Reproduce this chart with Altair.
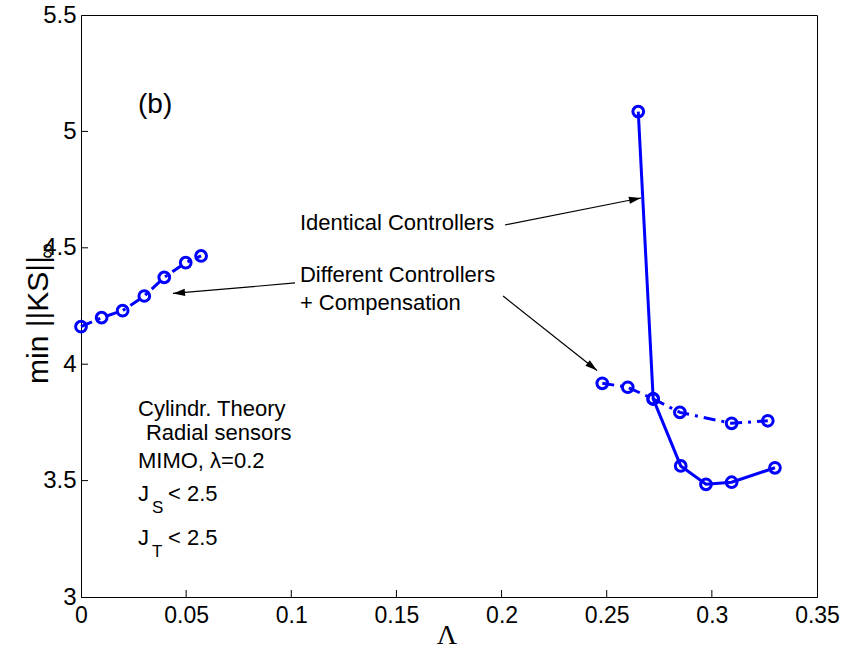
import math
import altair as alt
import pandas as pd

# ---------------- data ----------------
lam_diff_low = [0.0, 0.0098, 0.0198, 0.0301, 0.0396, 0.0498, 0.0571]
ks_diff_low = [4.161, 4.200, 4.230, 4.293, 4.373, 4.436, 4.465]

lam_diff_high = [0.2479, 0.2600, 0.2721, 0.2848, 0.3094, 0.3266]
ks_diff_high = [3.918, 3.901, 3.851, 3.793, 3.746, 3.757]

lam_ident = [0.2650, 0.2721, 0.2852, 0.2972, 0.3094, 0.3300]
ks_ident = [5.085, 3.851, 3.563, 3.484, 3.493, 3.555]

x_ticks = [0, 0.05, 0.1, 0.15, 0.2, 0.25, 0.3, 0.35]
y_ticks = [3, 3.5, 4, 4.5, 5, 5.5]

# annotation arrows: start (x, y) -> tip (x, y), in data units
arrow_x0 = [0.2016, 0.1018, 0.2007]
arrow_y0 = [4.598, 4.349, 4.293]
arrow_x1 = [0.2663, 0.04375, 0.2454]
arrow_y1 = [4.714, 4.304, 3.973]

# ---------------- layout ----------------
W, H = 736, 582
XMIN, XMAX, YMIN, YMAX = 0, 0.35, 3, 5.5
SX = W / (XMAX - XMIN)
SY = H / (YMAX - YMIN)
BLUE = "#0000FF"
FONT = "Liberation Sans"

xs = alt.Scale(domain=[XMIN, XMAX], nice=False, zero=False)
ys = alt.Scale(domain=[YMIN, YMAX], nice=False, zero=False)

diff = pd.DataFrame({
    "lam": lam_diff_low + lam_diff_high,
    "ks": ks_diff_low + ks_diff_high,
    "seg": ["low"] * len(lam_diff_low) + ["high"] * len(lam_diff_high),
})
ident = pd.DataFrame({"lam": lam_ident, "ks": ks_ident})
allpts = pd.concat([diff[["lam", "ks"]], ident], ignore_index=True)

X = alt.X("lam:Q", scale=xs,
          axis=alt.Axis(values=x_ticks, format="~g", title=None, ticks=False,
                        grid=False, labelFontSize=23, labelFont=FONT,
                        labelColor="black", domainColor="black",
                        labelPadding=7, labelFlush=False))
Y = alt.Y("ks:Q", scale=ys,
          axis=alt.Axis(values=y_ticks, format="~g", title=None, ticks=False,
                        grid=False, labelFontSize=24, labelFont=FONT,
                        labelColor="black", domainColor="black",
                        labelPadding=5, labelFlush=False))

dashed = alt.Chart(diff).mark_line(color=BLUE, strokeWidth=3,
                                   strokeDash=[12, 6, 3, 6]).encode(
    x=X, y=Y, detail="seg:N", order="lam:Q")
solid = alt.Chart(ident).mark_line(color=BLUE, strokeWidth=3).encode(
    x=alt.X("lam:Q", scale=xs), y=alt.Y("ks:Q", scale=ys), order="lam:Q")
points = alt.Chart(allpts).mark_point(shape="circle", filled=False, size=115,
                                      strokeWidth=3, color=BLUE, opacity=1).encode(
    x=alt.X("lam:Q", scale=xs), y=alt.Y("ks:Q", scale=ys))

# inward ticks
xt = pd.DataFrame({"v": x_ticks[1:-1]})
yt = pd.DataFrame({"v": y_ticks[1:-1]})
xtick_rules = alt.Chart(xt).mark_rule(color="black", strokeWidth=1).encode(
    x=alt.X("v:Q", scale=xs), y=alt.value(H), y2=alt.value(H - 7))
ytick_rules = alt.Chart(yt).mark_rule(color="black", strokeWidth=1).encode(
    y=alt.Y("v:Q", scale=ys), x=alt.value(0), x2=alt.value(7))

# arrows
arr = pd.DataFrame({"x0": arrow_x0, "y0": arrow_y0, "x1": arrow_x1, "y1": arrow_y1})
arr["angle"] = [
    math.degrees(math.atan2((b - a) * SX, (d - c) * SY)) % 360
    for a, b, c, d in zip(arr.x0, arr.x1, arr.y0, arr.y1)
]
arrow_lines = alt.Chart(arr).mark_rule(color="black", strokeWidth=1.2).encode(
    x=alt.X("x0:Q", scale=xs), y=alt.Y("y0:Q", scale=ys),
    x2="x1:Q", y2="y1:Q")
arrow_heads = alt.Chart(arr).mark_point(
    shape="M0,0L-0.6,2L0.6,2Z", filled=True, color="black", size=144,
    opacity=1, strokeWidth=0).encode(
    x=alt.X("x1:Q", scale=xs), y=alt.Y("y1:Q", scale=ys),
    angle=alt.Angle("angle:Q", scale=None))

# text annotations
def txt(df, size=22, align="left", baseline="alphabetic", **kw):
    return alt.Chart(df).mark_text(font=FONT, fontSize=size, align=align,
                                   baseline=baseline, color="black", **kw).encode(
        x=alt.X("x:Q", scale=xs), y=alt.Y("y:Q", scale=ys), text="t:N")

main_txt = pd.DataFrame({
    "x": [0.1041, 0.1041, 0.1041, 0.0271, 0.0309, 0.0271, 0.0271, 0.0414, 0.0271, 0.0414],
    "y": [4.576, 4.353, 4.233, 3.777, 3.674, 3.554, 3.412, 3.412, 3.223, 3.223],
    "t": ["Identical Controllers", "Different Controllers", "+ Compensation",
          "Cylindr. Theory", "Radial sensors", "MIMO, λ=0.2", "J", "< 2.5", "J", "< 2.5"],
})
label_txt = pd.DataFrame({"x": [0.0271], "y": [5.080], "t": ["(b)"]})
sub_txt = pd.DataFrame({"x": [0.0338, 0.0338], "y": [3.361, 3.172], "t": ["S", "T"]})

texts = txt(main_txt, 22)
label_b = txt(label_txt, 28)
subs = txt(sub_txt, 17)

# axis titles
ytitle = alt.Chart(pd.DataFrame({"t": ["min ||KS||"]})).mark_text(
    font=FONT, fontSize=30, angle=270, align="center", baseline="alphabetic",
    color="black").encode(x=alt.value(-33), y=alt.value(305), text="t:N")
yinf = alt.Chart(pd.DataFrame({"t": ["∞"]})).mark_text(
    font=FONT, fontSize=22, angle=270, align="center", baseline="middle",
    color="black").encode(x=alt.value(-34), y=alt.value(236), text="t:N")
xtitle = alt.Chart(pd.DataFrame({"t": ["Λ"]})).mark_text(
    font="Liberation Serif", fontSize=28, align="center", baseline="alphabetic",
    color="black").encode(x=alt.value(366), y=alt.value(629), text="t:N")

chart = alt.layer(
    dashed, solid, points, xtick_rules, ytick_rules, arrow_lines, arrow_heads,
    texts, label_b, subs, ytitle, yinf, xtitle
).properties(
    width=W, height=H,
    autosize=alt.AutoSizeParams(type="none"),
    padding={"left": 81, "top": 15, "right": 26, "bottom": 55},
    background="white",
).configure_view(stroke="black", strokeWidth=1).configure_axis(domainWidth=1)

chart.save("out.html", embed_options={"renderer": "svg", "actions": False})
